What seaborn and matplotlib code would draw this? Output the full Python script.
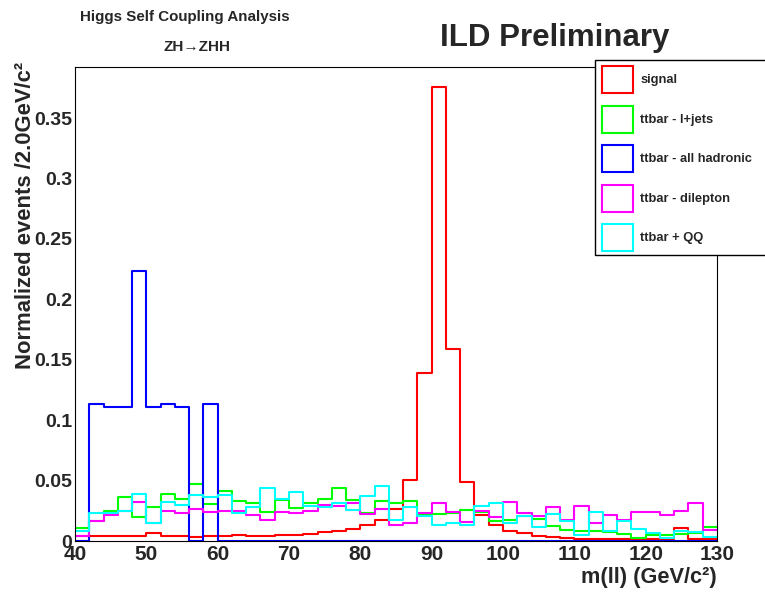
import numpy as np
import pandas as pd
import matplotlib
matplotlib.use("Agg")
import matplotlib.pyplot as plt
from matplotlib.patches import Patch, Rectangle
from matplotlib.ticker import MultipleLocator
import seaborn as sns

# Dilepton invariant mass, 2 GeV bins from 40 to 130 GeV
mass_low = 40
mass_high = 130
bin_width = 2

signal = [
    0.0040, 0.0040, 0.0040, 0.0040, 0.0045, 0.0064, 0.0041, 0.0041, 0.0036, 0.0038,
    0.0040, 0.0050, 0.0041, 0.0041, 0.0050, 0.0050, 0.0055, 0.0072, 0.0083, 0.0097,
    0.0132, 0.0170, 0.0268, 0.0507, 0.1387, 0.3754, 0.1586, 0.0490, 0.0212, 0.0132,
    0.0080, 0.0067, 0.0041, 0.0036, 0.0025, 0.0020, 0.0020, 0.0020, 0.0020, 0.0018,
    0.0018, 0.0018, 0.0105, 0.0020, 0.0018,
]
ttbar_ljets = [
    0.0108, 0.0168, 0.0250, 0.0367, 0.0198, 0.0278, 0.0390, 0.0350, 0.0474, 0.0303,
    0.0410, 0.0328, 0.0314, 0.0238, 0.0340, 0.0273, 0.0314, 0.0348, 0.0436, 0.0336,
    0.0234, 0.0334, 0.0312, 0.0331, 0.0221, 0.0226, 0.0232, 0.0256, 0.0240, 0.0162,
    0.0176, 0.0205, 0.0179, 0.0124, 0.0091, 0.0082, 0.0082, 0.0073, 0.0058, 0.0022,
    0.0050, 0.0050, 0.0062, 0.0064, 0.0113,
]
ttbar_hadronic = [
    0.0, 0.113, 0.111, 0.111, 0.223, 0.111, 0.113, 0.111, 0.0, 0.113,
    0.0, 0.0, 0.0, 0.0, 0.0, 0.0, 0.0, 0.0, 0.0, 0.0,
    0.0, 0.0, 0.0, 0.0, 0.0, 0.0, 0.0, 0.0, 0.0, 0.0,
    0.0, 0.0, 0.0, 0.0, 0.0, 0.0, 0.0, 0.0, 0.0, 0.0,
    0.0, 0.0, 0.0, 0.0, 0.0,
]
ttbar_dilepton = [
    0.0040, 0.0165, 0.0213, 0.0245, 0.0320, 0.0150, 0.0250, 0.0232, 0.0267, 0.0242,
    0.0245, 0.0250, 0.0215, 0.0177, 0.0243, 0.0234, 0.0250, 0.0294, 0.0290, 0.0312,
    0.0225, 0.0266, 0.0130, 0.0150, 0.0229, 0.0318, 0.0237, 0.0160, 0.0252, 0.0200,
    0.0320, 0.0232, 0.0205, 0.0284, 0.0176, 0.0292, 0.0152, 0.0212, 0.0174, 0.0240,
    0.0240, 0.0215, 0.0251, 0.0314, 0.0088,
]
ttbar_qq = [
    0.0085, 0.0229, 0.0232, 0.0250, 0.0385, 0.0152, 0.0320, 0.0300, 0.0380, 0.0365,
    0.0378, 0.0234, 0.0280, 0.0436, 0.0345, 0.0408, 0.0290, 0.0282, 0.0312, 0.0253,
    0.0372, 0.0456, 0.0170, 0.0284, 0.0210, 0.0132, 0.0152, 0.0132, 0.0292, 0.0312,
    0.0146, 0.0210, 0.0113, 0.0223, 0.0168, 0.0050, 0.0237, 0.0085, 0.0168, 0.0097,
    0.0069, 0.0028, 0.0083, 0.0072, 0.0036,
]

sample_names = ["signal", "ttbar - l+jets", "ttbar - all hadronic",
                "ttbar - dilepton", "ttbar + QQ"]
sample_colors = ["#ff0000", "#00ff00", "#0000ff", "#ff00ff", "#00ffff"]

x_ticks = [40, 50, 60, 70, 80, 90, 100, 110, 120, 130]
x_tick_labels = ["40", "50", "60", "70", "80", "90", "100", "110", "120", "130"]
y_ticks = [0, 0.05, 0.1, 0.15, 0.2, 0.25, 0.3, 0.35]
y_tick_labels = ["0", "0.05", "0.1", "0.15", "0.2", "0.25", "0.3", "0.35"]

edges = np.arange(mass_low, mass_high + bin_width, bin_width).tolist()
centers = [e + bin_width / 2 for e in edges[:-1]]

frames = []
for name, vals in zip(sample_names, [signal, ttbar_ljets, ttbar_hadronic,
                                     ttbar_dilepton, ttbar_qq]):
    frames.append(pd.DataFrame({"mass": centers, "weight": vals, "sample": name}))
df = pd.concat(frames, ignore_index=True)

sns.set_style("white")
plt.rcParams["font.family"] = ["Liberation Sans", "DejaVu Sans"]
plt.rcParams["font.weight"] = "bold"

fig = plt.figure(figsize=(7.65, 5.92), dpi=100)
ax = fig.add_axes([75 / 765, 1 - 541 / 592, 642 / 765, 474 / 592])

for name, color in zip(sample_names, sample_colors):
    sns.histplot(data=df[df["sample"] == name], x="mass", weights="weight",
                 bins=edges, element="step", fill=False, color=color,
                 linewidth=1.5, ax=ax)

ax.set_xlim(mass_low, mass_high)
ax.set_ylim(0, 0.3922)

ax.set_xticks(x_ticks, labels=x_tick_labels)
ax.set_yticks(y_ticks, labels=y_tick_labels)
ax.xaxis.set_minor_locator(MultipleLocator(2))
ax.yaxis.set_minor_locator(MultipleLocator(0.01))
for lab in ax.get_xticklabels():
    lab.set_fontsize(15)
    lab.set_fontweight("bold")
for lab in ax.get_yticklabels():
    lab.set_fontsize(14)
    lab.set_fontweight("bold")

ax.tick_params(axis="both", which="both", direction="in", top=False,
               right=False, color="black", width=0.8)
ax.tick_params(axis="x", which="major", length=9.4, pad=3)
ax.tick_params(axis="x", which="minor", length=4.7)
ax.tick_params(axis="y", which="major", length=14.4, pad=2)
ax.tick_params(axis="y", which="minor", length=7.2)
for sp in ax.spines.values():
    sp.set_color("black")
    sp.set_linewidth(0.8)

ax.set_xlabel("m(ll) (GeV/c²)", loc="right", fontsize=15.7, fontweight="bold")
ax.xaxis.set_label_coords(1.0, -0.055)
ax.set_ylabel("Normalized events /2.0GeV/c²", loc="top", fontsize=15.8,
              fontweight="bold")
ax.yaxis.set_label_coords(-0.060, 1.01)

fig.text(185 / 765, 1 - 17 / 592, "Higgs Self Coupling Analysis",
         ha="center", va="center", fontsize=10.9, fontweight="bold")
fig.text(197 / 765, 1 - 47 / 592, "ZH→ZHH",
         ha="center", va="center", fontsize=11, fontweight="bold")
fig.text(555 / 765, 1 - 38 / 592, "ILD Preliminary",
         ha="center", va="center", fontsize=22.5, fontweight="bold")

# Legend box, running off the right edge of the canvas
fig.patches.append(Rectangle((595 / 765, 1 - 255 / 592), 190 / 765, 195 / 592,
                             transform=fig.transFigure, facecolor="white",
                             edgecolor="black", linewidth=1.0, zorder=4))

handles = [Patch(facecolor="white", edgecolor=c, linewidth=1.5)
           for c in sample_colors]
leg = fig.legend(handles, sample_names, loc="upper left",
                 bbox_to_anchor=(602 / 765, 1 - 66 / 592), frameon=False,
                 prop={"size": 9.3, "weight": "bold"}, handlelength=2.4,
                 handleheight=2.84, labelspacing=0.97, handletextpad=0.55,
                 borderpad=0, borderaxespad=0)
leg.set_zorder(5)

fig.savefig("out.png", dpi=100)
